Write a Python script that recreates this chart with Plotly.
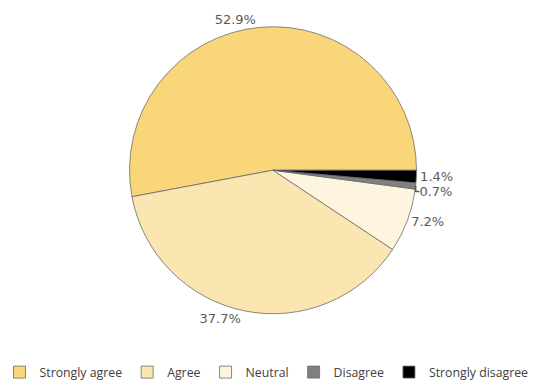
import plotly.graph_objects as go

labels = ["Strongly agree", "Agree", "Neutral", "Disagree", "Strongly disagree"]
values = [52.9, 37.7, 7.2, 0.7, 1.4]
colors = ["#F9D67A", "#FBE5B0", "#FEF5E1", "#808080", "#000000"]

W, H = 533, 387
cx, cy, r = 273, 172, 145

# first slice starts at 3 o'clock and runs counterclockwise
rot = 90 - 360 * values[0] / sum(values)

fig = go.Figure(go.Pie(
    labels=labels, values=values, sort=False,
    direction="counterclockwise", rotation=rot,
    marker=dict(colors=colors, line=dict(color="#6b6b6b", width=0.8)),
    texttemplate="%{value:.1f}%", textposition="outside",
    textfont=dict(family="DejaVu Sans", size=13, color="#595959"),
    domain=dict(x=[(cx - r) / W, (cx + r) / W], y=[1 - (cy + r) / H, 1 - (cy - r) / H]),
    automargin=False, hoverinfo="skip",
))
fig.update_layout(
    width=W, height=H, margin=dict(l=0, r=0, t=0, b=0),
    paper_bgcolor="white", plot_bgcolor="white",
    showlegend=True,
    legend=dict(orientation="h", x=0.5, xanchor="center", y=1 - 376 / H, yanchor="middle",
                font=dict(family="Open Sans", size=12.3, color="#404040"),
                itemwidth=30, tracegroupgap=0),
)
fig.write_html("out.html")
